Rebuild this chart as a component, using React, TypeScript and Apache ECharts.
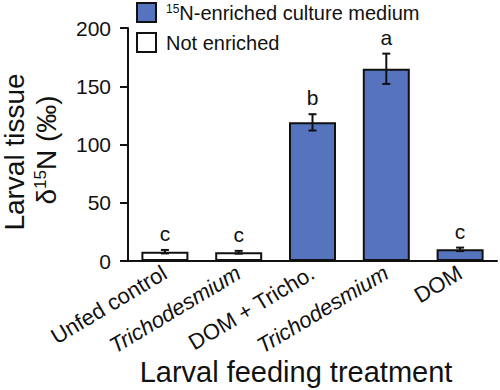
import React, { useEffect, useRef } from "react";
import * as echarts from "echarts";

const categories = ["Unfed control", "Trichodesmium", "DOM + Tricho.", "Trichodesmium", "DOM"];
const italicCats = [false, true, false, true, false];
const enriched = [null, null, 119, 165, 10];
const notEnriched = [8, 7.5, null, null, null];
const errors = [1.5, 1.2, 7, 13, 1.5];
const letters = ["c", "c", "b", "a", "c"];
const yTicks = { min: 0, max: 200, interval: 50 };

const FONT = '"Liberation Sans", Arial, sans-serif';
const BLUE = "#5673BD";
const INK = "#111111";

export default function App() {
  const ref = useRef<HTMLDivElement>(null);
  useEffect(() => {
    if (!ref.current) return;
    const chart = echarts.init(ref.current, null, { renderer: "svg" });
    const means = categories.map((_, i) => (enriched[i] ?? notEnriched[i]) as number);
    const errData = categories.map((_, i) => [i, means[i], errors[i]]);
    chart.setOption({
      animation: false,
      textStyle: { fontFamily: FONT },
      grid: { left: 128, top: 28, right: 3, bottom: 129, containLabel: false },
      legend: {
        left: 136,
        top: 2,
        padding: 0,
        orient: "vertical",
        itemWidth: 19,
        itemHeight: 19,
        itemGap: 9,
        icon: "rect",
        data: ["enriched", "not"],
        formatter: (name: string) =>
          name === "enriched" ? "{s|15}{t|N-enriched culture medium}" : "{t|Not enriched}",
        textStyle: {
          padding: [0, 0, 0, 5],
          rich: {
            s: { fontSize: 12, fontFamily: FONT, color: INK, verticalAlign: "top", padding: [0, 0, 6, 0] },
            t: { fontSize: 20, fontFamily: FONT, color: INK },
          },
        },
      },
      xAxis: {
        type: "category",
        data: categories,
        axisLine: { lineStyle: { color: INK, width: 2 } },
        axisTick: { length: 7, lineStyle: { color: INK, width: 2 } },
        axisLabel: {
          interval: 0,
          rotate: 31,
          margin: 10,
          fontSize: 22,
          color: INK,
          fontFamily: FONT,
          formatter: (v: string, i: number) => (italicCats[i] ? "{i|" + v + "}" : v),
          rich: { i: { fontStyle: "italic", fontSize: 22, color: INK, fontFamily: FONT } },
        },
      },
      yAxis: {
        type: "value",
        min: yTicks.min,
        max: yTicks.max,
        interval: yTicks.interval,
        splitLine: { show: false },
        axisLine: { show: true, lineStyle: { color: INK, width: 2 } },
        axisTick: { show: true, length: 8, lineStyle: { color: INK, width: 2 } },
        axisLabel: { fontSize: 21, color: INK, margin: 17, fontFamily: FONT },
      },
      graphic: [
        {
          type: "text",
          x: 14,
          y: 152,
          rotation: Math.PI / 2,
          style: { text: "Larval tissue", fontSize: 28, fontFamily: FONT, fill: INK, align: "center", verticalAlign: "middle" },
        },
        {
          type: "text",
          x: 46,
          y: 150,
          rotation: Math.PI / 2,
          style: {
            text: "{a|δ}{s|15}{a|N (‰)}",
            fill: INK,
            align: "center",
            verticalAlign: "middle",
            rich: {
              a: { fontSize: 28, fontFamily: FONT, fill: INK },
              s: { fontSize: 17, fontFamily: FONT, fill: INK, verticalAlign: "top", padding: [0, 0, 10, 0] },
            },
          },
        },
        {
          type: "text",
          x: 296,
          y: 372,
          style: { text: "Larval feeding treatment", fontSize: 29, fontFamily: FONT, fill: INK, align: "center", verticalAlign: "middle" },
        },
      ],
      series: [
        {
          name: "enriched",
          type: "bar",
          data: enriched,
          barWidth: 47,
          barGap: "-100%",
          itemStyle: { color: BLUE, borderColor: INK, borderWidth: 2 },
        },
        {
          name: "not",
          type: "bar",
          data: notEnriched,
          barWidth: 47,
          barGap: "-100%",
          itemStyle: { color: "#ffffff", borderColor: INK, borderWidth: 2 },
        },
        {
          name: "err",
          type: "custom",
          data: errData,
          z: 10,
          renderItem: (params: any, api: any) => {
            const idx = api.value(0);
            const m = api.value(1);
            const e = api.value(2);
            const top = api.coord([idx, m + e]);
            const bot = api.coord([idx, m - e]);
            const hw = 4;
            const ls = { stroke: INK, lineWidth: 2 };
            return {
              type: "group",
              children: [
                { type: "line", shape: { x1: top[0], y1: top[1], x2: bot[0], y2: bot[1] }, style: ls },
                { type: "line", shape: { x1: top[0] - hw, y1: top[1], x2: top[0] + hw, y2: top[1] }, style: ls },
                { type: "line", shape: { x1: bot[0] - hw, y1: bot[1], x2: bot[0] + hw, y2: bot[1] }, style: ls },
                {
                  type: "text",
                  x: top[0],
                  y: top[1] - 6,
                  style: {
                    text: letters[params.dataIndex],
                    fontSize: 21,
                    fontFamily: FONT,
                    fill: INK,
                    align: "center",
                    verticalAlign: "bottom",
                  },
                },
              ],
            };
          },
        },
      ],
    });
    return () => chart.dispose();
  }, []);
  return <div ref={ref} style={{ position: "absolute", left: 0, top: 0, width: 500, height: 390 }} />;
}
